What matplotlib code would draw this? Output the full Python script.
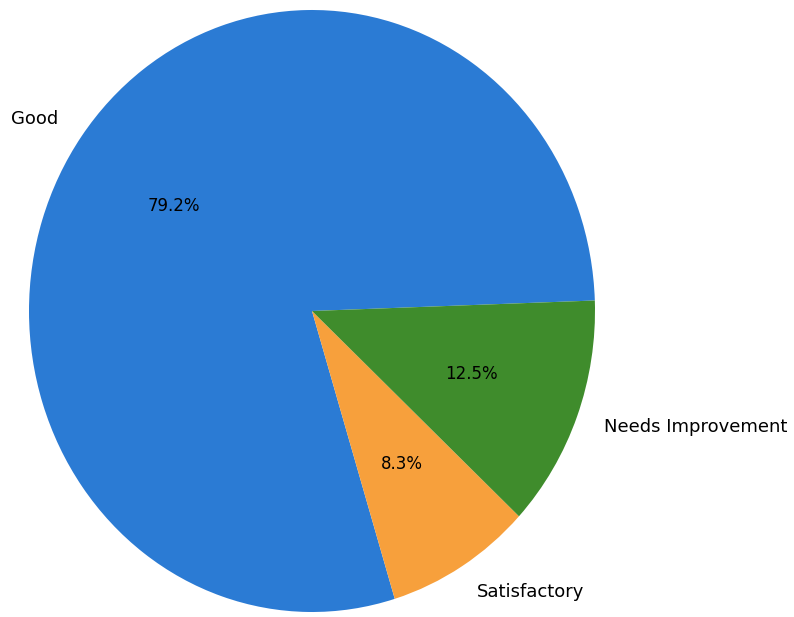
import matplotlib.pyplot as plt

# feedback categories, in the order they go round the pie
labels = ['Good', 'Satisfactory', 'Needs Improvement']
counts = [19, 2, 3]
colors = ['#2b7bd4', '#f7a03c', '#3f8c2c']

fig = plt.figure(figsize=(7.94, 6.17), dpi=100)
ax = fig.add_axes([29/794, 5/617, 566/794, 602/617])

wedges, texts, autotexts = ax.pie(counts, labels=labels, colors=colors,
                                  autopct='%1.1f%%', startangle=2,
                                  textprops={'fontsize': 13})
for t in autotexts:
    t.set_fontsize(12)
ax.set_aspect('auto')
ax.set_xlim(-1, 1)
ax.set_ylim(-1, 1)

plt.savefig('out.png', dpi=100)
